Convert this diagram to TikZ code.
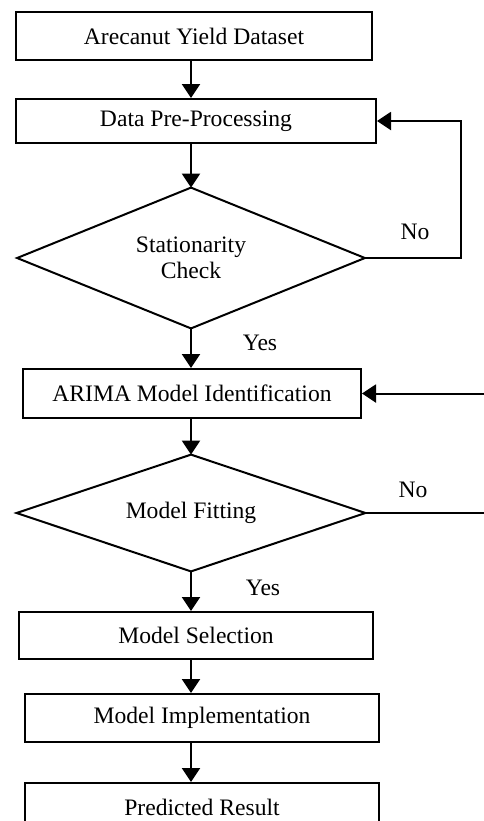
\documentclass[tikz,border=0pt]{standalone}
\usepackage{fontspec}
\setmainfont{Liberation Serif}
\usetikzlibrary{arrows.meta}

\tikzset{
    flow box/.style={
      draw=black,
      line width=1pt,
      rectangle,
      inner sep=0pt,
      font=\fontsize{11.8}{14}\selectfont
    },
    flow decision/.style={
      rectangle,
      inner sep=0pt,
      align=center,
      font=\fontsize{11.8}{13}\selectfont
    },
    flow edge/.style={
      line width=1pt,
      line join=miter
    },
    flow arrow/.style={
      line width=1pt,
      -{Triangle[width=9pt,length=7pt]}
    },
    flow label/.style={
      font=\fontsize{11.8}{14}\selectfont
    }
  }

\begin{document}
\begin{tikzpicture}[x=0.5pt,y=-0.5pt]
      \useasboundingbox (0,0) rectangle (483,821);

      % ノード
      \node[flow box, minimum width=178pt, minimum height=24pt] (dataset) at (194,36) {Arecanut Yield Dataset};
      \node[flow box, minimum width=180pt, minimum height=22pt] (preproc) at (196,121) {Data Pre-Processing};
      \node[flow decision, minimum width=173.5pt, minimum height=70pt] (station) at (191,258) {Stationarity\\Check};
      \node[flow box, minimum width=169pt, minimum height=24.5pt] (arima) at (192,393.5) {ARIMA Model Identification};
      \node[flow decision, minimum width=174pt, minimum height=58pt] (fitting) at (191,513) {Model Fitting};
      \node[flow box, minimum width=177pt, minimum height=23.5pt] (select) at (196,635.5) {Model Selection};
      \node[flow box, minimum width=177pt, minimum height=24pt] (implement) at (202,718) {Model Implementation};
      \node[flow box, minimum width=177pt, minimum height=24pt] (result) at (202,807) {Predicted Result};

      % ひし形
      \draw[flow edge] (station.north) -- (station.east) -- (station.south) -- (station.west) -- cycle;
      \draw[flow edge] (fitting.north) -- (fitting.east) -- (fitting.south) -- (fitting.west) -- cycle;

      \coordinate (axis) at (191,0);
      \coordinate (loopright) at (461,0);
      \coordinate (offpage) at (495,0);

      % 矢印
      \draw[flow arrow] (dataset.south -| axis) -- (preproc.north -| axis);
      \draw[flow arrow] (preproc.south -| axis) -- (station.north);
      \draw[flow arrow] (station.south) -- (arima.north -| axis);
      \draw[flow arrow] (arima.south -| axis) -- (fitting.north);
      \draw[flow arrow] (fitting.south) -- (select.north -| axis);
      \draw[flow arrow] (select.south -| axis) -- (implement.north -| axis);
      \draw[flow arrow] (implement.south -| axis) -- (result.north -| axis);

      % ループ
      \draw[flow arrow] (station.east) -- (station.east -| loopright) |- (preproc.east);
      \draw[flow arrow] (fitting.east) -- (fitting.east -| offpage) |- (arima.east);

      % ラベル
      \node[flow label] (no1) at (415,232) {No};
      \node[flow label] (yes1) at (260,343) {Yes};
      \node[flow label] (no2) at (413,490) {No};
      \node[flow label] (yes2) at (263,588) {Yes};
    \end{tikzpicture}
\end{document}
